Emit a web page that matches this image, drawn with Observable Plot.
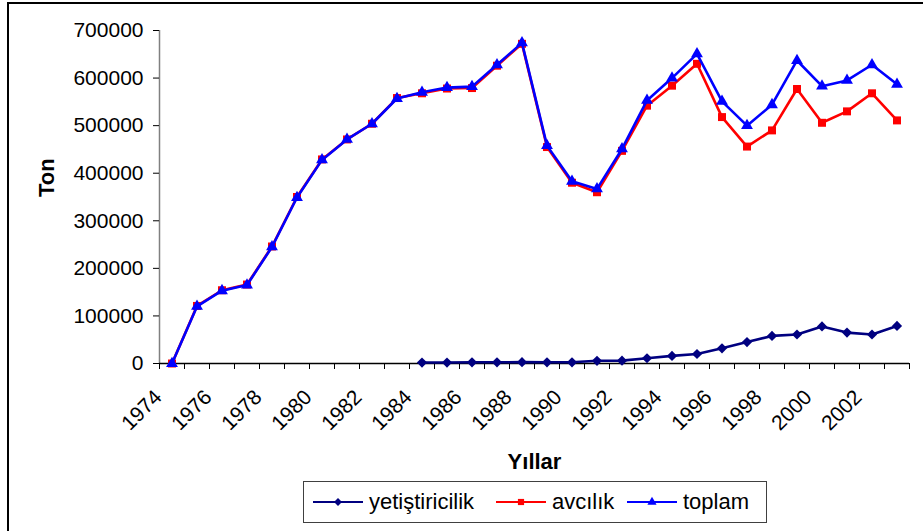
<!DOCTYPE html>
<html>
<head>
<meta charset="utf-8">
<script src="https://cdn.jsdelivr.net/npm/d3@7"></script>
<script src="https://cdn.jsdelivr.net/npm/@observablehq/plot@0.6"></script>
<style>
  html, body { margin: 0; padding: 0; background: #fff; overflow: hidden; }
  #wrap { position: relative; width: 923px; height: 531px; overflow: hidden; font-family: "Liberation Sans", Arial, sans-serif; }
  #frame { position: absolute; left: 7px; top: 2px; width: 1000px; height: 600px; border: 2px solid #000; box-sizing: border-box; }
  #chart { position: absolute; left: 0; top: 0; }
  #legend { position: absolute; left: 303px; top: 481px; width: 464px; height: 42px; border: 1px solid #404040; box-sizing: border-box; background: #fff; }
  .item { position: absolute; top: 0; height: 40px; display: flex; align-items: center; font-size: 22px; color: #000; white-space: nowrap; }
  .item svg { margin-right: 6px; }
</style>
</head>
<body>
<div id="wrap">
  <div id="frame"></div>
  <div id="chart"></div>
  <div id="legend"></div>
</div>
<script>
const years = [1974, 1975, 1976, 1977, 1978, 1979, 1980, 1981, 1982, 1983,
               1984, 1985, 1986, 1987, 1988, 1989, 1990, 1991, 1992, 1993,
               1994, 1995, 1996, 1997, 1998, 1999, 2000, 2001, 2002, 2003];
const yetistiricilik = [null, null, null, null, null, null, null, null, null, null,
                        2000, 2000, 2500, 2500, 2800, 2500, 2500, 5700, 6000, 11000,
                        16000, 20000, 32000, 45000, 58000, 61000, 78000, 65000, 61000, 79000];
const avcilik = [0, 121000, 154000, 166000, 246000, 350000, 429000, 471000, 504000, 558000,
                 568000, 578000, 579000, 626000, 672000, 455000, 380000, 360000, 447000, 542000,
                 584000, 630000, 518000, 456000, 490000, 577000, 506000, 530000, 568000, 511000];
const toplam = [0, 120000, 153000, 165000, 245000, 349000, 428000, 471000, 504000, 557000,
                570000, 580000, 582000, 628000, 674000, 458000, 383000, 367000, 451000, 553000,
                600000, 651000, 551000, 500000, 544000, 637000, 583000, 595000, 628000, 587000];
const xTickLabels = [1974, 1976, 1978, 1980, 1982, 1984, 1986, 1988, 1990, 1992, 1994, 1996, 1998, 2000, 2002];
const yTicks = [0, 100000, 200000, 300000, 400000, 500000, 600000, 700000];

const seriesNames = ["yetiştiricilik", "avcılık", "toplam"];
const seriesColors = ["#000080", "#FF0000", "#0000FF"];
const seriesSymbols = ["diamond2", "square", "triangle"];
const seriesR = [4.6, 4.5, 4.4];
const seriesValues = [yetistiricilik, avcilik, toplam];

const rows = seriesNames.map((name, s) =>
  years.map((year, i) => ({series: name, year, value: seriesValues[s][i]}))
);

const boundaries = years.map(y => y - 0.5).concat([years[years.length - 1] + 0.5]);

const marks = [
  Plot.ruleX([boundaries[0]], {stroke: "#808080", strokeWidth: 1.5}),
  Plot.axisY({ticks: yTicks, tickSize: 6, tickPadding: 10, tickFormat: d => String(d), fontSize: 21, label: null, stroke: "#000"}),
  Plot.axisX({ticks: boundaries, tickSize: 6, tickFormat: () => "", label: null, stroke: "#000"}),
  Plot.ruleY([0], {stroke: "#000", strokeWidth: 1.5}),
  Plot.text(xTickLabels, {x: d => d, text: d => String(d), frameAnchor: "bottom", textAnchor: "end", lineAnchor: "bottom", rotate: -45, dx: -9, dy: 35, fontSize: 21, fill: "#000"}),
  Plot.text(["Ton"], {frameAnchor: "left", lineAnchor: "bottom", rotate: -90, dx: -106, fontSize: 22, fontWeight: "bold", fill: "#000"}),
  Plot.text(["Yıllar"], {frameAnchor: "bottom", lineAnchor: "bottom", dy: 105, fontSize: 22, fontWeight: "bold", fill: "#000"})
];
rows.forEach((data, s) => {
  const defined = data.filter(d => d.value != null);
  marks.push(Plot.line(defined, {x: "year", y: "value", stroke: seriesColors[s], strokeWidth: 2.6}));
  marks.push(Plot.dot(defined, {x: "year", y: "value", symbol: seriesSymbols[s], r: seriesR[s], fill: seriesColors[s], stroke: "none"}));
});

const chart = Plot.plot({
  width: 923,
  height: 478,
  marginLeft: 159,
  marginRight: 14,
  marginTop: 30,
  marginBottom: 115,
  x: {type: "linear", domain: [boundaries[0], boundaries[boundaries.length - 1]], axis: null},
  y: {type: "linear", domain: [0, 700000], axis: null},
  style: {fontFamily: "Liberation Sans, Arial, sans-serif", fontSize: "21px", background: "transparent", overflow: "visible", color: "#000"},
  marks
});
document.getElementById("chart").appendChild(chart);

// legend
const legend = document.getElementById("legend");
const itemLeft = [9, 192, 323];
seriesNames.forEach((name, s) => {
  const item = document.createElement("div");
  item.className = "item";
  item.style.left = itemLeft[s] + "px";
  const ns = "http://www.w3.org/2000/svg";
  const svg = document.createElementNS(ns, "svg");
  svg.setAttribute("width", 50); svg.setAttribute("height", 14);
  const line = document.createElementNS(ns, "line");
  line.setAttribute("x1", 0); line.setAttribute("x2", 50);
  line.setAttribute("y1", 7); line.setAttribute("y2", 7);
  line.setAttribute("stroke", seriesColors[s]); line.setAttribute("stroke-width", 2);
  svg.appendChild(line);
  const sym = {diamond2: d3.symbolDiamond2, square: d3.symbolSquare, triangle: d3.symbolTriangle}[seriesSymbols[s]];
  const path = document.createElementNS(ns, "path");
  path.setAttribute("d", d3.symbol(sym, Math.PI * seriesR[s] * seriesR[s] * 0.6)());
  path.setAttribute("transform", "translate(25,7)");
  path.setAttribute("fill", seriesColors[s]);
  svg.appendChild(path);
  item.appendChild(svg);
  const span = document.createElement("span");
  span.textContent = name;
  item.appendChild(span);
  legend.appendChild(item);
});
</script>
</body>
</html>
